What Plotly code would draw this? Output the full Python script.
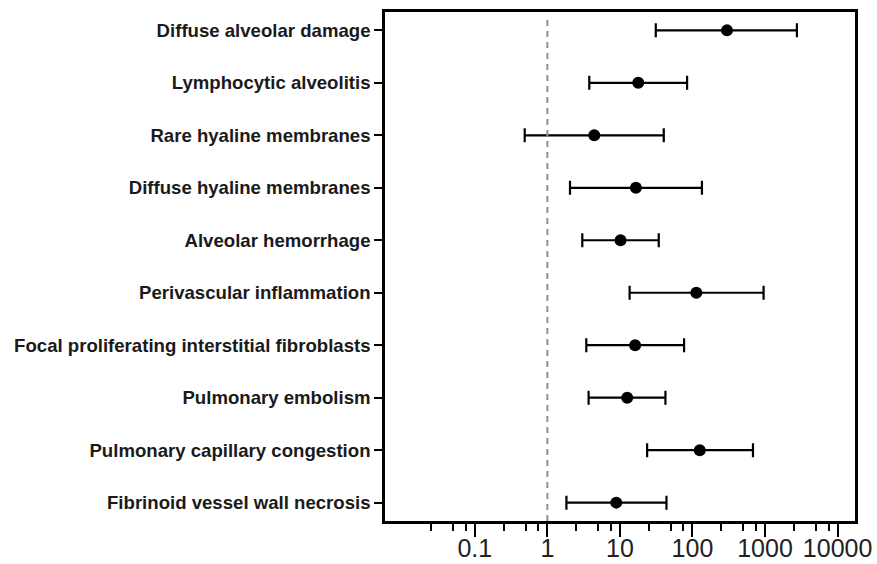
import plotly.graph_objects as go

categories = [
    "Diffuse alveolar damage",
    "Lymphocytic alveolitis",
    "Rare hyaline membranes",
    "Diffuse hyaline membranes",
    "Alveolar hemorrhage",
    "Perivascular inflammation",
    "Focal proliferating interstitial fibroblasts",
    "Pulmonary embolism",
    "Pulmonary capillary congestion",
    "Fibrinoid vessel wall necrosis",
]
odds_ratio = [299, 17.9, 4.43, 16.6, 10.2, 113, 16.2, 12.6, 126, 8.9]
ci_lower = [31.2, 3.78, 0.487, 2.05, 3.03, 13.6, 3.44, 3.7, 23.7, 1.83]
ci_upper = [2748, 84.3, 40.2, 135, 34.3, 955, 76.6, 42.4, 682, 43.8]

major_ticks = [0.1, 1, 10, 100, 1000, 10000]
major_labels = ["0.1", "1", "10", "100", "1000", "10000"]
minor_ticks = [m * d for d in [0.01, 0.1, 1, 10, 100, 1000] for m in (2.5, 5, 7.5)]

err_plus = [u - o for u, o in zip(ci_upper, odds_ratio)]
err_minus = [o - l for o, l in zip(odds_ratio, ci_lower)]

fig = go.Figure()
fig.add_trace(go.Scatter(
    x=odds_ratio, y=categories, mode="markers",
    marker=dict(color="black", size=12, symbol="circle"),
    error_x=dict(type="data", symmetric=False, array=err_plus, arrayminus=err_minus,
                 color="black", thickness=2.2, width=7),
    showlegend=False, hoverinfo="x+y",
))

fig.add_shape(type="line", xref="x", yref="paper", x0=1, x1=1, y0=0, y1=0.985,
              line=dict(color="#8f8f8f", width=2, dash="6px,5px"))

fig.update_xaxes(
    type="log", range=[-2.238, 4.24], automargin=False,
    tickmode="array", tickvals=major_ticks, ticktext=major_labels,
    ticks="outside", ticklen=13, tickwidth=2, tickcolor="black",
    minor=dict(tickmode="array", tickvals=minor_ticks, ticks="outside",
               ticklen=7, tickwidth=2, tickcolor="black", showgrid=False),
    showline=True, linecolor="black", linewidth=2.5, mirror=True,
    showgrid=False, zeroline=False, ticklabelstandoff=-10,
    tickfont=dict(family="Liberation Sans, Arial", size=25, color="#222222"),
)
fig.update_yaxes(
    type="category", categoryorder="array", categoryarray=categories,
    range=[9.35, -0.35], automargin=False,
    ticks="outside", ticklen=8, tickwidth=2, tickcolor="black",
    showline=True, linecolor="black", linewidth=2.5, mirror=True,
    showgrid=False, zeroline=False, ticklabelstandoff=0,
    tickfont=dict(family="Liberation Sans, Arial", size=18.6, color="#1a1a1a", weight="bold"),
)
fig.update_layout(
    width=877, height=564,
    margin=dict(l=385, r=22, t=12, b=43),
    plot_bgcolor="white", paper_bgcolor="white",
)
fig.write_html("out.html")
